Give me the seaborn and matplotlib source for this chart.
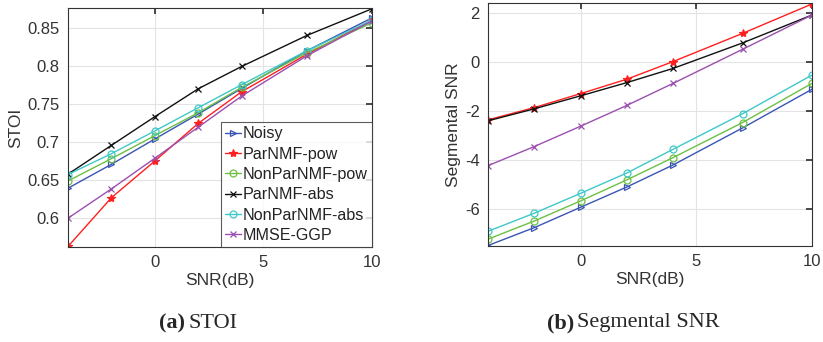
import numpy as np
import pandas as pd
import matplotlib
matplotlib.use("Agg")
import matplotlib.pyplot as plt
import seaborn as sns

sns.set_theme(style="whitegrid")
plt.rcParams["font.family"] = ["Liberation Sans", "DejaVu Sans"]
plt.rcParams["axes.unicode_minus"] = False

snr_db = [-4, -2, 0, 2, 4, 7, 10]
methods = ["Noisy", "ParNMF-pow", "NonParNMF-pow", "ParNMF-abs", "NonParNMF-abs", "MMSE-GGP"]

stoi_noisy = [0.6395, 0.671, 0.7044, 0.7373, 0.771, 0.8206, 0.864]
stoi_parnmf_pow = [0.5627, 0.627, 0.6754, 0.725, 0.7667, 0.816, 0.861]
stoi_nonparnmf_pow = [0.649, 0.6785, 0.7088, 0.739, 0.7724, 0.818, 0.8575]
stoi_parnmf_abs = [0.658, 0.696, 0.7338, 0.7706, 0.800, 0.8408, 0.876]
stoi_nonparnmf_abs = [0.6575, 0.685, 0.715, 0.7456, 0.776, 0.8206, 0.861]
stoi_mmse_ggp = [0.600, 0.6386, 0.679, 0.720, 0.761, 0.814, 0.860]

segsnr_noisy = [-7.48, -6.75, -5.92, -5.09, -4.19, -2.68, -1.10]
segsnr_parnmf_pow = [-2.35, -1.85, -1.28, -0.69, 0.03, 1.18, 2.38]
segsnr_nonparnmf_pow = [-7.22, -6.48, -5.66, -4.80, -3.89, -2.46, -0.86]
segsnr_parnmf_abs = [-2.39, -1.90, -1.37, -0.83, -0.25, 0.79, 1.93]
segsnr_nonparnmf_abs = [-6.90, -6.16, -5.35, -4.52, -3.55, -2.10, -0.52]
segsnr_mmse_ggp = [-4.22, -3.44, -2.61, -1.76, -0.86, 0.53, 1.93]

stoi = [stoi_noisy, stoi_parnmf_pow, stoi_nonparnmf_pow, stoi_parnmf_abs, stoi_nonparnmf_abs, stoi_mmse_ggp]
segsnr = [segsnr_noisy, segsnr_parnmf_pow, segsnr_nonparnmf_pow, segsnr_parnmf_abs, segsnr_nonparnmf_abs, segsnr_mmse_ggp]

colors = ["#3a55b4", "#ff1f1f", "#6cc043", "#111111", "#3fc8c8", "#9b4fb0"]
markers = [">", "*", "o", "x", "o", "x"]
open_marker = [True, False, True, False, True, False]


def build_frame(values):
    rows = []
    for name, ys in zip(methods, values):
        for x, y in zip(snr_db, ys):
            rows.append({"SNR(dB)": x, "value": y, "method": name})
    return pd.DataFrame(rows)


def draw_panel(ax, values, ylabel, ylim, yticks, legend):
    df = build_frame(values)
    for i, name in enumerate(methods):
        sub = df[df["method"] == name]
        sns.lineplot(
            data=sub, x="SNR(dB)", y="value", ax=ax, color=colors[i],
            marker=markers[i], markersize=5 if markers[i] != "*" else 6,
            markerfacecolor="none" if open_marker[i] else colors[i],
            markeredgecolor=colors[i], markeredgewidth=0.9, linewidth=1.0,
            label=name, legend=False, errorbar=None,
        )
    ax.set_xlim(-4, 10)
    ax.set_ylim(*ylim)
    ax.set_xticks([0, 5, 10])
    ax.set_yticks(yticks)
    ax.set_xlabel("SNR(dB)", fontsize=12.5, color="#333333", labelpad=2)
    ax.set_ylabel(ylabel, fontsize=12.5, color="#333333", labelpad=3)
    ax.tick_params(direction="in", length=4, labelsize=12, colors="#333333",
                   top=True, right=True, pad=6)
    ax.tick_params(axis="both", which="both", labeltop=False, labelright=False)
    ax.grid(True, color="#e3e3e3", linewidth=0.8)
    ax.set_facecolor("white")
    for s in ax.spines.values():
        s.set_visible(True)
        s.set_color("#333333")
        s.set_linewidth(0.8)
    if legend:
        leg = ax.legend(loc="lower right", fontsize=11.6, frameon=True, fancybox=False,
                        borderpad=0.25, labelspacing=0.33, handlelength=1.05,
                        handletextpad=0.1, borderaxespad=0.0)
        leg.get_frame().set_edgecolor("#333333")
        leg.get_frame().set_linewidth(0.8)
        for t in leg.get_texts():
            t.set_color("#222222")


fig = plt.figure(figsize=(8.23, 3.42), dpi=100)
ax1 = fig.add_axes([68 / 823, 1 - 247 / 342, 304 / 823, 239 / 342])
ax2 = fig.add_axes([488 / 823, 1 - 246 / 342, 324 / 823, 243 / 342])

draw_panel(ax1, stoi, "STOI", (0.562, 0.877),
           [0.6, 0.65, 0.7, 0.75, 0.8, 0.85], legend=True)
ax1.set_yticklabels(["0.6", "0.65", "0.7", "0.75", "0.8", "0.85"])
draw_panel(ax2, segsnr, "Segmental SNR", (-7.5, 2.42),
           [-6, -4, -2, 0, 2], legend=False)

# Sub-figure captions
serif = ["Liberation Serif", "DejaVu Serif"]
cap_y = 1 - 323 / 342
fig.text(159 / 823, cap_y, "(a)", ha="left", va="center", fontsize=16,
         fontweight="bold", family=serif)
fig.text(189 / 823, cap_y, "STOI", ha="left", va="center", fontsize=16,
         family=serif)
fig.text(547 / 823, cap_y, "(b)", ha="left", va="center", fontsize=16,
         fontweight="bold", family=serif)
fig.text(577 / 823, cap_y, "Segmental SNR", ha="left", va="center", fontsize=16,
         family=serif)

fig.savefig("out.png", dpi=100)
